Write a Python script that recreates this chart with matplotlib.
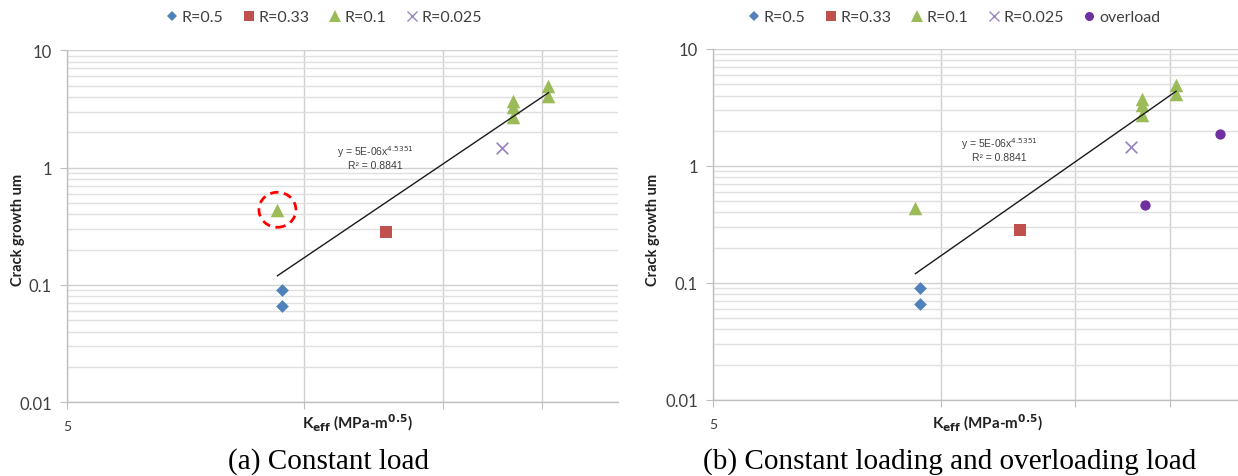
import numpy as np
import matplotlib
matplotlib.use("Agg")
import matplotlib.pyplot as plt
from matplotlib.patches import Ellipse
from matplotlib.transforms import ScaledTranslation
from matplotlib.lines import Line2D

# data
k_r05 = [9.37, 9.37]
a_r05 = [0.0905, 0.0657]
k_r033 = [12.7]
a_r033 = [0.284]
k_r01 = [9.24, 18.4, 18.4, 18.4, 20.4, 20.4]
a_r01 = [0.4375, 3.70, 3.29, 2.70, 4.92, 4.10]
k_r0025 = [17.8]
a_r0025 = [1.46]
k_over = [18.56, 23.3]
a_over = [0.466, 1.875]

fit_c = 5e-06
fit_n = 4.5351
fit_r2 = 0.8841

W, H = 1238, 477
plt.rcParams['font.family'] = ['Lato', 'DejaVu Sans']

fig = plt.figure(figsize=(W / 100, H / 100), dpi=100)

col_r05 = "#4F81BD"
col_r033 = "#C0504D"
col_r01 = "#9BBB59"
col_r0025 = "#9B87C4"
col_over = "#7030A0"
grid_major = "#D0D0D0"
grid_minor = "#E0E0E0"
axis_col = "#BFBFBF"


def px_box(left, top, right, bottom):
    return [left / W, 1 - bottom / H, (right - left) / W, (bottom - top) / H]


def setup_axes(ax, xmax):
    ax.set_xscale('log')
    ax.set_yscale('log')
    ax.set_xlim(5, xmax)
    ax.set_ylim(0.01, 10)
    ax.set_xticks([5, 10, 15, 20])
    ax.set_xticklabels(['5', '', '', ''])
    ax.xaxis.set_minor_locator(matplotlib.ticker.NullLocator())
    ax.set_yticks([0.01, 0.1, 1, 10])
    ax.set_yticklabels(['0.01', '0.1', '1', '10'])
    ax.yaxis.set_minor_locator(matplotlib.ticker.LogLocator(base=10, subs=np.arange(2, 10)))
    ax.yaxis.set_minor_formatter(matplotlib.ticker.NullFormatter())
    ax.grid(True, which='major', color=grid_major, lw=1.0)
    ax.grid(True, which='minor', axis='y', color=grid_minor, lw=1.0)
    ax.set_axisbelow(True)
    for s in ['top', 'right']:
        ax.spines[s].set_visible(False)
    for s in ['left', 'bottom']:
        ax.spines[s].set_color(axis_col)
        ax.spines[s].set_linewidth(1.0)
    ax.tick_params(axis='y', which='major', length=5, color=axis_col, labelsize=12, pad=6, labelcolor='#404040')
    ax.tick_params(axis='x', which='major', length=5, color=axis_col, labelsize=10, pad=8, labelcolor='#404040')
    ax.tick_params(which='minor', length=0)
    ax.set_facecolor('white')


def draw_points(ax, overload=False):
    ax.scatter(k_r05, a_r05, marker='D', s=42, color=col_r05, zorder=3, linewidths=0)
    ax.scatter(k_r033, a_r033, marker='s', s=80, color=col_r033, zorder=3, linewidths=0)
    ax.scatter(k_r01, a_r01, marker='^', s=95, color=col_r01, zorder=3, linewidths=0)
    ax.scatter(k_r0025, a_r0025, marker='x', s=70, color=col_r0025, zorder=3, linewidths=1.3)
    if overload:
        ax.scatter(k_over, a_over, marker='o', s=55, color=col_over, zorder=3, linewidths=0)
    xs = np.linspace(min(k_r01), max(k_r01), 50)
    ax.plot(xs, fit_c * xs ** fit_n, color='#1a1a1a', lw=1.0, zorder=4)


def eq_text(ax, x, y):
    ax.text(x, y, "y = 5E-06x$^{4.5351}$", transform=ax.transAxes, ha='center', va='center',
            fontsize=7.5, color='#404040', family='Liberation Sans')
    ax.text(x, y - 0.04, "R² = 0.8841", transform=ax.transAxes, ha='center', va='center',
            fontsize=7.5, color='#404040', family='Liberation Sans')


def legend_handles(overload=False):
    h = [Line2D([], [], ls='none', marker='D', ms=5, color=col_r05, mew=0),
         Line2D([], [], ls='none', marker='s', ms=7.5, color=col_r033, mew=0),
         Line2D([], [], ls='none', marker='^', ms=8, color=col_r01, mew=0),
         Line2D([], [], ls='none', marker='x', ms=7, color=col_r0025, mew=1.0)]
    lab = ['R=0.5', 'R=0.33', 'R=0.1', 'R=0.025']
    if overload:
        h.append(Line2D([], [], ls='none', marker='o', ms=6.5, color=col_over, mew=0))
        lab.append('overload')
    return h, lab


# (a) constant load
ax1 = fig.add_axes(px_box(67.3, 51.3, 618, 403.3))
setup_axes(ax1, 25.0)
draw_points(ax1)
eq_text(ax1, 0.56, 0.713)
# dashed circle around the outlier
circ = Ellipse((0, 0), 0.37, 0.35, fill=False, ec='#FF0000', ls=(0, (3, 2)), lw=2.0,
               transform=fig.dpi_scale_trans + ScaledTranslation(k_r01[0], a_r01[0], ax1.transData),
               zorder=5)
ax1.add_artist(circ)

# (b) constant loading and overloading load
ax2 = fig.add_axes(px_box(713.3, 50, 1243, 400.7))
setup_axes(ax2, 25.0)
draw_points(ax2, overload=True)
eq_text(ax2, 0.54, 0.731)

for ax, cx in [(ax1, 357), (ax2, 987)]:
    fig.text(cx / W, 1 - 423 / H, r"K$_{\mathbf{eff}}$ (MPa-m$^{\mathbf{0.5}}$)", ha='center', va='center',
             fontsize=11, fontweight='bold', color='#222222')
fig.text(18 / W, 1 - 230 / H, "Crack growth um", rotation=90, ha='center', va='center',
         fontsize=10.5, fontweight='bold', color='#222222')
fig.text(653 / W, 1 - 230 / H, "Crack growth um", rotation=90, ha='center', va='center',
         fontsize=10.5, fontweight='bold', color='#222222')

h, lab = legend_handles()
fig.legend(h, lab, loc='center', bbox_to_anchor=(323 / W, 1 - 18 / H), ncol=4, frameon=False,
           fontsize=11.5, handletextpad=0.1, columnspacing=1.1, handlelength=1.0,
           labelcolor='#404040')
h, lab = legend_handles(True)
fig.legend(h, lab, loc='center', bbox_to_anchor=(953 / W, 1 - 18 / H), ncol=5, frameon=False,
           fontsize=11.5, handletextpad=0.1, columnspacing=1.1, handlelength=1.0,
           labelcolor='#404040')

fig.text(328 / W, 1 - 462 / H, "(a) Constant load", ha='center', va='center',
         fontsize=21, family='Liberation Serif', color='black')
fig.text(950 / W, 1 - 462 / H, "(b) Constant loading and overloading load", ha='center', va='center',
         fontsize=21, family='Liberation Serif', color='black')

fig.savefig("out.png", dpi=100)
